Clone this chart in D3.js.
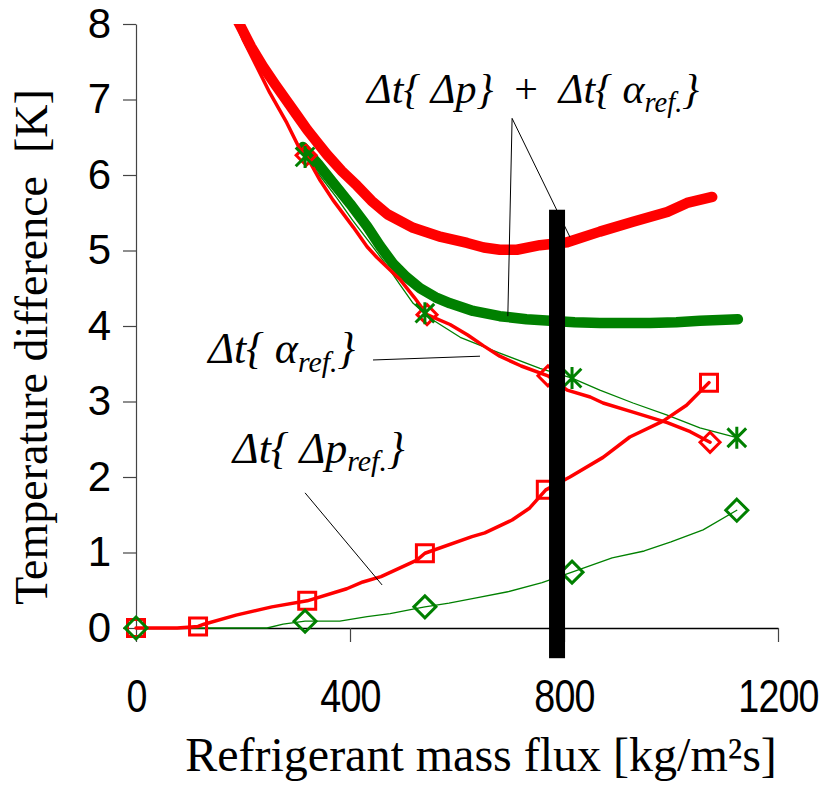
<!DOCTYPE html>
<html>
<head>
<meta charset="utf-8">
<script src="https://cdn.jsdelivr.net/npm/d3@7"></script>
<style>
  body { margin: 0; background: #fff; }
  svg { display: block; }
</style>
</head>
<body>
<div id="chart"></div>
<script>
// Controlling constants
const svgWidth = 827,
  svgHeight = 785;
const margin = { top: 24, right: 49, bottom: 157, left: 136 },
  width = svgWidth - margin.left - margin.right,
  height = svgHeight - margin.top - margin.bottom;

// x ticks / y ticks
const xTicks = [0, 400, 800, 1200];
const yTicks = [0, 1, 2, 3, 4, 5, 6, 7, 8];

// Δt{Δp} + Δt{α_ref.}, red (thick)
const sumRedG = [182, 194, 215, 237, 260, 282, 300, 320, 340, 357, 385, 413, 440, 470, 518, 570, 619, 650, 680, 712, 755, 806, 867, 929, 993, 1030, 1077];
const sumRedT = [8.15, 7.99, 7.70, 7.44, 7.20, 6.98, 6.80, 6.60, 6.42, 6.27, 6.05, 5.86, 5.66, 5.48, 5.30, 5.18, 5.10, 5.04, 5.01, 5.01, 5.07, 5.11, 5.25, 5.38, 5.51, 5.63, 5.71];

// Δt{Δp} + Δt{α_ref.}, green (thick)
const sumGreenG = [312, 340, 368, 400, 432, 456, 480, 505, 531, 560, 587, 630, 680, 730, 774, 820, 867, 915, 961, 1010, 1054, 1090, 1125];
const sumGreenT = [6.37, 6.15, 5.90, 5.62, 5.32, 5.06, 4.83, 4.65, 4.50, 4.38, 4.30, 4.20, 4.13, 4.09, 4.07, 4.05, 4.04, 4.04, 4.04, 4.05, 4.07, 4.08, 4.09];

// Δt{α_ref.}, red
const alphaRedG = [180, 200, 226, 250, 282, 307, 318, 344, 368, 406, 432, 450, 493, 520, 544, 587, 620, 649, 680, 720, 770, 806, 849, 873, 929, 993, 1036, 1073];
const alphaRedT = [8.15, 7.8, 7.43, 7.09, 6.69, 6.33, 6.26, 5.93, 5.67, 5.31, 5.05, 4.91, 4.62, 4.38, 4.15, 4.02, 3.88, 3.74, 3.60, 3.47, 3.34, 3.15, 3.06, 2.98, 2.86, 2.72, 2.60, 2.46];
const alphaRedMarkG = [318, 544, 770, 1073];
const alphaRedMarkT = [6.26, 4.15, 3.34, 2.46];

// Δt{α_ref.}, green
const alphaGreenG = [316, 345, 375, 405, 435, 465, 493, 518, 540, 555, 606, 680, 755, 815, 867, 929, 993, 1054, 1123];
const alphaGreenT = [6.24, 5.98, 5.70, 5.40, 5.12, 4.84, 4.55, 4.30, 4.17, 4.08, 3.85, 3.64, 3.44, 3.31, 3.15, 2.98, 2.82, 2.65, 2.52];
const alphaGreenMarkG = [316, 540, 815, 1123];
const alphaGreenMarkT = [6.24, 4.17, 3.31, 2.52];

// Δt{Δp_ref.}, red
const dpRedG = [0, 77, 116, 127, 187, 254, 320, 394, 424, 458, 525, 540, 628, 652, 703, 736, 766, 811, 873, 923, 985, 1029, 1071];
const dpRedT = [0, 0, 0.02, 0.05, 0.17, 0.28, 0.36, 0.52, 0.61, 0.68, 0.90, 0.99, 1.21, 1.26, 1.43, 1.59, 1.83, 2.0, 2.26, 2.53, 2.74, 2.95, 3.25];
const dpRedMarkG = [0, 116, 320, 540, 766, 1071];
const dpRedMarkT = [0, 0.02, 0.36, 0.99, 1.83, 3.25];

// Δt{Δp_ref.}, green
const dpGreenG = [0, 245, 275, 316, 381, 432, 475, 525, 540, 585, 636, 695, 759, 815, 890, 950, 1000, 1060, 1123];
const dpGreenT = [0, 0, 0.05, 0.09, 0.09, 0.15, 0.19, 0.26, 0.28, 0.33, 0.40, 0.48, 0.60, 0.74, 0.93, 1.02, 1.14, 1.30, 1.56];
const dpGreenMarkG = [0, 316, 540, 815, 1123];
const dpGreenMarkT = [0, 0.09, 0.28, 0.74, 1.56];

// vertical design bar (mass flux, top, bottom)
const barG = 787, barTop = 5.54, barBottom = -0.4;

const zip = (g, t) => g.map((v, i) => [v, t[i]]);

const svg = d3
  .select("#chart")
  .append("svg")
  .attr("width", svgWidth)
  .attr("height", svgHeight)
  .append("g")
  .attr("transform", "translate(" + margin.left + "," + margin.top + ")");

const x = d3.scaleLinear().domain([0, 1200]).range([0, width]);
const y = d3.scaleLinear().domain([0, 8]).range([height, 0]);

svg.append("clipPath").attr("id", "plot")
  .append("rect").attr("x", -20).attr("y", 0).attr("width", width + 40).attr("height", height + 20);

// Y axis
const yAxis = svg.append("g")
  .call(d3.axisLeft(y).tickValues(yTicks).tickSize(13).tickSizeOuter(0).tickPadding(12));
yAxis.select(".domain").attr("stroke", "#444").attr("stroke-width", 1.2);
yAxis.selectAll(".tick line").attr("stroke", "#444").attr("stroke-width", 1.2);
yAxis.selectAll(".tick text")
  .style("font-family", "'Liberation Sans', Arial, sans-serif")
  .style("font-size", "42px").attr("fill", "#000");

// X axis (condensed digits)
const xAxis = svg.append("g")
  .attr("transform", "translate(0," + height + ")")
  .call(d3.axisBottom(x).tickValues(xTicks).tickFormat(d3.format("d")).tickSize(14).tickSizeOuter(0).tickPadding(37));
xAxis.select(".domain").attr("stroke", "#000").attr("stroke-width", 1.5);
xAxis.selectAll(".tick line").attr("stroke", "#444").attr("stroke-width", 1.2);
xAxis.selectAll(".tick text")
  .style("font-family", "'Liberation Sans', Arial, sans-serif")
  .style("font-size", "47px")
  .style("letter-spacing", "-1px")
  .attr("transform", "scale(0.8,1)")
  .attr("fill", "#000");

// axis titles
svg.append("text")
  .attr("transform", "translate(" + (47 - margin.left) + "," + (347 - margin.top) + ") rotate(-90)")
  .attr("text-anchor", "middle")
  .style("white-space", "pre")
  .style("font-family", "'Liberation Serif', 'Times New Roman', serif")
  .style("font-size", "46px")
  .text("Temperature difference  [K]");

svg.append("text")
  .attr("x", x(600) + 24)
  .attr("y", height + 143)
  .attr("text-anchor", "middle")
  .style("font-family", "'Liberation Serif', 'Times New Roman', serif")
  .style("font-size", "48px")
  .text("Refrigerant mass flux [kg/m²s]");

const line = d3.line().x((d) => x(d[0])).y((d) => y(d[1]));
const lines = svg.append("g").attr("clip-path", "url(#plot)");

const series = [
  { data: zip(sumGreenG, sumGreenT), color: "#008000", w: 10.5 },
  { data: zip(sumRedG, sumRedT), color: "#ff0000", w: 10.5 },
  { data: zip(alphaGreenG, alphaGreenT), color: "#008000", w: 1.3 },
  { data: zip(dpGreenG, dpGreenT), color: "#008000", w: 1.3 },
  { data: zip(alphaRedG, alphaRedT), color: "#ff0000", w: 3.5 },
  { data: zip(dpRedG, dpRedT), color: "#ff0000", w: 3.5 },
];

lines.selectAll("path.series")
  .data(series)
  .enter()
  .append("path")
  .attr("class", "series")
  .attr("fill", "none")
  .attr("stroke", (d) => d.color)
  .attr("stroke-width", (d) => d.w)
  .attr("stroke-linejoin", "round")
  .attr("stroke-linecap", "round")
  .attr("d", (d) => line(d.data));

// markers
const diamond = (s) => `M0,${-s}L${s},0L0,${s}L${-s},0Z`;
const square = (s) => `M${-s},${-s}H${s}V${s}H${-s}Z`;
const asterisk = (s) => {
  const a = s * 0.85;
  return `M0,${-s}V${s}M${-a},${-a}L${a},${a}M${-a},${a}L${a},${-a}`;
};

function markers(g, t, shape, color, sw) {
  svg.append("g").selectAll("path")
    .data(zip(g, t))
    .enter()
    .append("path")
    .attr("transform", (d) => "translate(" + x(d[0]) + "," + y(d[1]) + ")")
    .attr("d", shape)
    .attr("fill", "none")
    .attr("stroke", color)
    .attr("stroke-width", sw);
}

markers(dpRedMarkG, dpRedMarkT, square(8.5), "#ff0000", 3);
markers(alphaRedMarkG, alphaRedMarkT, diamond(10), "#ff0000", 3);
markers(dpGreenMarkG, dpGreenMarkT, diamond(11), "#008000", 3);
markers(alphaGreenMarkG, alphaGreenMarkT, asterisk(11), "#008000", 3);

// design bar
svg.append("rect")
  .attr("x", x(barG) - 8)
  .attr("width", 16)
  .attr("y", y(barTop))
  .attr("height", y(barBottom) - y(barTop))
  .attr("fill", "#000");

// annotations: leader lines in data units
const leaders = [
  [[703, 6.75], [695, 4.13]],
  [[703, 6.75], [811, 5.18]],
  [[443, 3.55], [643, 3.60]],
  [[316, 1.79], [460, 0.57]],
];
svg.append("g").selectAll("line")
  .data(leaders)
  .enter()
  .append("line")
  .attr("x1", (d) => x(d[0][0]))
  .attr("y1", (d) => y(d[0][1]))
  .attr("x2", (d) => x(d[1][0]))
  .attr("y2", (d) => y(d[1][1]))
  .attr("stroke", "#000")
  .attr("stroke-width", 1);

function label(G, T, parts, size) {
  const t = svg.append("text")
    .attr("x", x(G))
    .attr("y", y(T))
    .style("white-space", "pre")
    .style("font-family", "'Liberation Serif', 'Times New Roman', serif")
    .style("font-style", "italic")
    .style("font-size", size + "px");
  parts.forEach((p) => {
    const s = t.append("tspan").text(p.t);
    if (p.sub) s.attr("dy", size * 0.2).style("font-size", size * 0.68 + "px");
    if (p.up) s.attr("dy", -size * 0.2);
    if (p.upright) s.style("font-style", "normal");
  });
}

label(432, 6.95, [
  { t: "Δt{ Δp}  " },
  { t: "+", upright: true },
  { t: "  Δt{ α" },
  { t: "ref.", sub: true },
  { t: "}", up: true },
], 42);
label(135, 3.51, [{ t: "Δt{ α" }, { t: "ref.", sub: true }, { t: "}", up: true }], 44);
label(181, 2.19, [{ t: "Δt{ Δp" }, { t: "ref.", sub: true }, { t: "}", up: true }], 44);
</script>
</body>
</html>
